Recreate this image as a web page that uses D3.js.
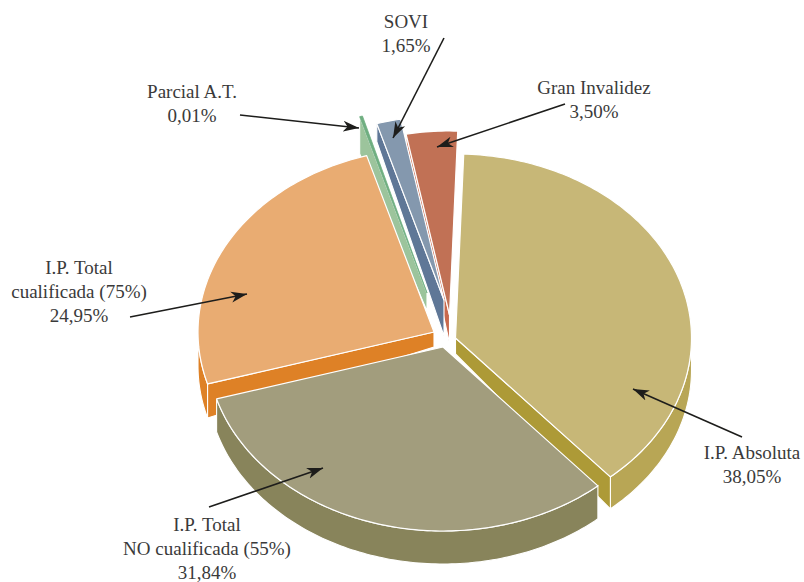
<!DOCTYPE html>
<html><head><meta charset="utf-8">
<script src="https://cdn.jsdelivr.net/npm/d3@7/dist/d3.min.js"></script>
<style>html,body{margin:0;background:#fff}svg{display:block}</style>
</head><body><svg id="c" width="804" height="582"></svg>
<script>
// Data
const categories = ["I.P. Absoluta","I.P. Total NO cualificada (55%)","I.P. Total cualificada (75%)","Parcial A.T.","SOVI","Gran Invalidez"];
const values = [38.05,31.84,24.95,0.01,1.65,3.50];
const labelLines = [["I.P. Absoluta","38,05%"],["I.P. Total","NO cualificada (55%)","31,84%"],["I.P. Total","cualificada (75%)","24,95%"],["Parcial A.T.","0,01%"],["SOVI","1,65%"],["Gran Invalidez","3,50%"]];

// Styling and layout, separate from the data
const topColors  = ["#c7b777","#a29d7d","#e9ac72","#6fae80","#8498ae","#c17155"];
const wallColors = ["#ad9a37","#88845b","#de8126","#9cc49c","#5f7797","#c8694d"];
const rimColors  = ["#b8a655","#88845b","#de8126","#9cc49c","#5f7797","#c8694d"];
const apexX = [455.5,443,434,427,444,449.5];
const apexY = [338,347,332,293,300,315];
const depthApex = [16,16,15,18,36,28];
const depthRim  = [32,33,34,37,18,10];
const cutWall = ["end",null,"start","start","start","start"];
const drawOrder = [5,4,3,2,0,1];
const minSweepDeg = 0.7;
const labelAnchors = [[752,459],[207,531],[79,274],[192,98],[406,28],[594,94]];
const arrows = [[[742,437],[633,389]],[[209,507],[323,468]],[[130,317],[247,294]],[[240,115],[359,128]],[[444,38],[393,138]],[[565,104],[437,147]]];
const lineGap = 23.8;
const rx = 236, ry = 184;

const svg = d3.select("#c");
svg.append("defs").append("marker").attr("id","ah").attr("viewBox","-16 -6 18 12")
  .attr("markerUnits","userSpaceOnUse").attr("markerWidth",18).attr("markerHeight",12).attr("orient","auto")
  .attr("refX",0).attr("refY",0)
  .append("path").attr("d","M0,0L-16,-5.5L-11.5,0L-16,5.5Z").attr("fill","#1d1d1b");

const rad = Math.PI/180;
const pie = d3.pie().sort(null).startAngle(2*rad).endAngle(362*rad);
const arcs = pie(values);
const line = d3.line();
const lineClosed = d3.line().curve(d3.curveLinearClosed);

arcs.forEach((a,i)=>{ if(a.endAngle-a.startAngle<minSweepDeg*rad) a.endAngle=a.startAngle+minSweepDeg*rad; });

function rimPt(i,t){ return [apexX[i]+rx*Math.sin(t), apexY[i]-ry*Math.cos(t)]; }
function sampled(i,a0,a1){ const n=Math.max(2,Math.ceil((a1-a0)/(1*rad))); return d3.range(n+1).map(k=>a0+(a1-a0)*k/n); }

const g = svg.append("g");
drawOrder.forEach(i=>{
  const a = arcs[i], s=g.append("g").attr("class","slice");
  const apex=[apexX[i],apexY[i]];
  // outer wall on the front half of the ellipse
  const t0=Math.max(a.startAngle,90*rad), t1=Math.min(a.endAngle,270*rad);
  if(t1>t0){
    const ts=sampled(i,t0,t1);
    const up=ts.map(t=>rimPt(i,t));
    const dn=ts.map(t=>rimPt(i,t)).map(p=>[p[0],p[1]+depthRim[i]]).reverse();
    s.append("path").attr("d",lineClosed(up.concat(dn))).attr("fill",rimColors[i]).attr("stroke","#fff").attr("stroke-width",1.1);
  }
  // radial cut wall
  if(cutWall[i]){
    const p=rimPt(i,cutWall[i]==="start"?a.startAngle:a.endAngle);
    s.append("path").attr("d",lineClosed([apex,p,[p[0],p[1]+depthRim[i]],[apex[0],apex[1]+depthApex[i]]]))
      .attr("fill",wallColors[i]).attr("stroke","#fff").attr("stroke-width",1.1);
  }
  // top face
  const pts=[apex].concat(sampled(i,a.startAngle,a.endAngle).map(t=>rimPt(i,t)));
  s.append("path").attr("d",lineClosed(pts)).attr("fill",topColors[i])
    .attr("stroke",i===3?topColors[i]:"#fff").attr("stroke-width",i===3?0.8:1.2).attr("stroke-linejoin","round");
});

const labels = svg.append("g").attr("font-family","'Liberation Serif',serif").attr("font-size",19).attr("fill","#3a3a3a").attr("text-anchor","middle");
labelLines.forEach((ls,i)=>{
  ls.forEach((t,k)=>labels.append("text").attr("x",labelAnchors[i][0]).attr("y",labelAnchors[i][1]+k*lineGap).text(t));
});
svg.append("g").selectAll("path").data(arrows).join("path").attr("d",d=>line(d))
  .attr("fill","none").attr("stroke","#1d1d1b").attr("stroke-width",1.6).attr("marker-end","url(#ah)");
</script></body></html>
